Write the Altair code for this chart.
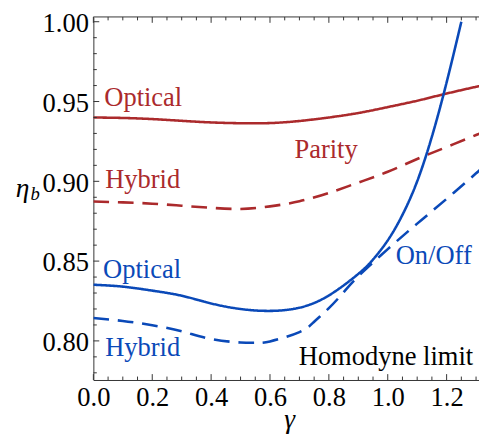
import altair as alt
import pandas as pd

# ---- data ----
gamma_parity = [0.0, 0.1, 0.2, 0.3, 0.4, 0.5, 0.6, 0.7, 0.8, 0.9, 1.0, 1.1, 1.2, 1.3, 1.32]
eta_parity_optical = [0.9400, 0.9397, 0.9390, 0.9379, 0.9369, 0.9364, 0.9365, 0.9378, 0.9400,
                      0.9428, 0.9465, 0.9505, 0.9550, 0.9592, 0.9600]
eta_parity_hybrid = [0.8873, 0.8868, 0.8860, 0.8847, 0.8834, 0.8827, 0.8843, 0.8875, 0.8927,
                     0.8992, 0.9060, 0.9140, 0.9215, 0.9290, 0.9305]

gamma_onoff_optical = [0.0, 0.1, 0.2, 0.3, 0.4, 0.5, 0.6, 0.7, 0.8, 0.9, 0.95, 1.0, 1.05, 1.1,
                       1.15, 1.2, 1.25]
eta_onoff_optical = [0.8352, 0.8340, 0.8315, 0.8283, 0.8235, 0.8200, 0.8188, 0.8208, 0.8285,
                     0.8420, 0.8510, 0.8630, 0.8790, 0.9000, 0.9280, 0.9620, 1.0000]

gamma_onoff_hybrid = [0.0, 0.1, 0.2, 0.3, 0.4, 0.5, 0.55, 0.6, 0.7, 0.75, 0.8, 0.85, 0.9, 1.0,
                      1.1, 1.2, 1.3, 1.32]
eta_onoff_hybrid = [0.8143, 0.8125, 0.8098, 0.8060, 0.8012, 0.7990, 0.7988, 0.7997, 0.8055,
                    0.8120, 0.8205, 0.8305, 0.8405, 0.8575, 0.8735, 0.8890, 0.9050, 0.9083]

x_major = [0.0, 0.2, 0.4, 0.6, 0.8, 1.0, 1.2]
x_minor = [0.05, 0.1, 0.15, 0.25, 0.3, 0.35, 0.45, 0.5, 0.55, 0.65, 0.7, 0.75,
           0.85, 0.9, 0.95, 1.05, 1.1, 1.15, 1.25, 1.3]
y_major = [0.80, 0.85, 0.90, 0.95, 1.00]
y_minor = [0.78, 0.79, 0.81, 0.82, 0.83, 0.84, 0.86, 0.87, 0.88, 0.89,
           0.91, 0.92, 0.93, 0.94, 0.96, 0.97, 0.98, 0.99]

label_text = ["Optical", "Hybrid", "Parity", "Optical", "Hybrid", "On/Off"]
label_gamma = [0.037, 0.040, 0.683, 0.033, 0.040, 1.027]
label_eta = [0.9472, 0.8957, 0.9147, 0.8393, 0.7908, 0.8485]
label_scheme = ["Parity", "Parity", "Parity", "On/Off", "On/Off", "On/Off"]

# ---- build tables ----
rows = []
for g, e in zip(gamma_parity, eta_parity_optical):
    rows.append(dict(gamma=g, eta=e, scheme="Parity", det="Optical", curve="PO"))
for g, e in zip(gamma_parity, eta_parity_hybrid):
    rows.append(dict(gamma=g, eta=e, scheme="Parity", det="Hybrid", curve="PH"))
for g, e in zip(gamma_onoff_optical, eta_onoff_optical):
    rows.append(dict(gamma=g, eta=e, scheme="On/Off", det="Optical", curve="OO"))
for g, e in zip(gamma_onoff_hybrid, eta_onoff_hybrid):
    rows.append(dict(gamma=g, eta=e, scheme="On/Off", det="Hybrid", curve="OH"))
df = pd.DataFrame(rows)

labels = pd.DataFrame(dict(text=label_text, gamma=label_gamma, eta=label_eta, scheme=label_scheme))

RED = "#ab2a2c"
BLUE = "#0a49b8"
FONT = "Liberation Serif, Times New Roman, DejaVu Serif, serif"
FS = 27
W, H = 393, 370
FRAME = "#333333"

xs = alt.Scale(domain=[0, 1.31], nice=False, zero=False)
ys = alt.Scale(domain=[0.7755, 1.003], nice=False, zero=False)
cscale = alt.Scale(domain=["Parity", "On/Off"], range=[RED, BLUE])

curves = alt.Chart(df).mark_line(clip=True, strokeWidth=2.6, interpolate="natural").encode(
    x=alt.X("gamma:Q", scale=xs, title=None, axis=alt.Axis(
        values=x_major, format=".1f", title=None, grid=False, ticks=False,
        domainColor=FRAME, domainWidth=1, labelFont=FONT, labelFontSize=FS,
        labelColor="black", labelPadding=5, labelFlush=False, labelOverlap=False)),
    y=alt.Y("eta:Q", scale=ys, title=None, axis=alt.Axis(
        values=y_major, format=".2f", title=None, grid=False, ticks=False,
        domainColor=FRAME, domainWidth=1, labelFont=FONT, labelFontSize=FS,
        labelColor="black", labelPadding=5, labelOffset=2, labelFlush=False,
        labelOverlap=False)),
    color=alt.Color("scheme:N", scale=cscale, legend=None),
    strokeDash=alt.StrokeDash("det:N", scale=alt.Scale(domain=["Optical", "Hybrid"],
                                                        range=[[1, 0], [16, 9]]), legend=None),
    detail="curve:N",
)


def xticks(vals, length, top=False):
    base = alt.Chart(pd.DataFrame({"gamma": vals})).mark_rule(color=FRAME, strokeWidth=1)
    if top:
        return base.encode(x=alt.X("gamma:Q", scale=xs), y=alt.value(0), y2=alt.value(length))
    return base.encode(x=alt.X("gamma:Q", scale=xs), y=alt.value(H), y2=alt.value(H - length))


def yticks(vals, length):
    return alt.Chart(pd.DataFrame({"eta": vals})).mark_rule(color=FRAME, strokeWidth=1).encode(
        y=alt.Y("eta:Q", scale=ys), x=alt.value(0), x2=alt.value(length))


one = pd.DataFrame({"a": [0]})
top_frame = alt.Chart(one).mark_rule(color=FRAME, strokeWidth=1).encode(
    x=alt.value(0), x2=alt.value(W), y=alt.value(0))

texts = alt.Chart(labels).mark_text(font=FONT, fontSize=FS, align="left", baseline="alphabetic").encode(
    x=alt.X("gamma:Q", scale=xs),
    y=alt.Y("eta:Q", scale=ys),
    text="text:N",
    color=alt.Color("scheme:N", scale=cscale, legend=None),
)

homodyne = alt.Chart(pd.DataFrame({"text": ["Homodyne limit"], "gamma": [1.29], "eta": [0.7847]})).mark_text(
    font=FONT, fontSize=FS, align="right", baseline="alphabetic", color="black").encode(
    x=alt.X("gamma:Q", scale=xs), y=alt.Y("eta:Q", scale=ys), text="text:N")

eta_lbl = alt.Chart(one).mark_text(font=FONT, fontSize=28, fontStyle="italic", align="left",
                                   baseline="alphabetic", text="η", color="black").encode(
    x=alt.value(-79), y=alt.value(184))
b_lbl = alt.Chart(one).mark_text(font=FONT, fontSize=19, fontStyle="italic", align="left",
                                 baseline="alphabetic", text="b", color="black").encode(
    x=alt.value(-64), y=alt.value(187))
gam_lbl = alt.Chart(one).mark_text(font=FONT, fontSize=28, fontStyle="italic", align="center",
                                   baseline="alphabetic", text="γ", color="black").encode(
    x=alt.value(200), y=alt.value(419))

chart = alt.layer(
    curves,
    xticks(x_major, 6), xticks(x_minor, 3.5),
    xticks(x_major, 6, top=True), xticks(x_minor, 3.5, top=True),
    yticks(y_major, 6), yticks(y_minor, 3.5),
    top_frame, texts, homodyne, eta_lbl, b_lbl, gam_lbl,
).properties(
    width=W, height=H,
    padding={"left": 87, "top": 5, "right": 0, "bottom": 55},
    autosize=alt.AutoSizeParams(type="none"),
).configure_view(stroke=None)

chart.save("out.html", embed_options={"renderer": "svg", "actions": False})
